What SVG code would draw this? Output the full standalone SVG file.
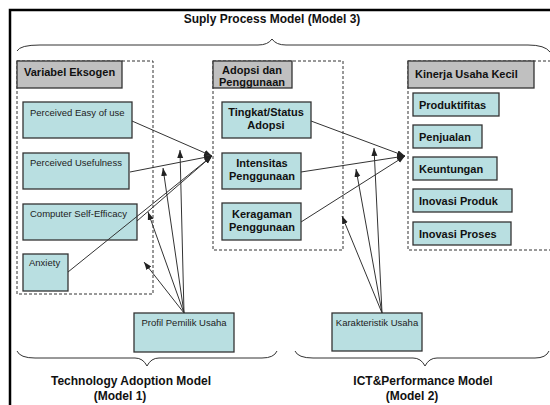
<svg xmlns="http://www.w3.org/2000/svg" width="550" height="405" viewBox="0 0 550 405">
<defs>
<marker id="ah" markerUnits="userSpaceOnUse" markerWidth="9" markerHeight="7" refX="8" refY="3" orient="auto">
<path d="M0,0 L8,3 L0,6 z" fill="#222"/>
</marker>
<style>
.bx{fill:#B9DFE1;stroke:#333;stroke-width:1.3}
.gr{fill:#C0C0C0;stroke:#333;stroke-width:1.3}
.dash{fill:none;stroke:#333;stroke-width:1;stroke-dasharray:3 2}
.br{fill:none;stroke:#333;stroke-width:1}
.ln{fill:none;stroke:#333;stroke-width:1;marker-end:url(#ah)}
.sm{font-family:"Liberation Sans",Arial,sans-serif;font-size:9.5px;fill:#222}
.bd{font-family:"Liberation Sans",Arial,sans-serif;font-size:11px;font-weight:bold;fill:#111}
.hd{font-family:"Liberation Sans",Arial,sans-serif;font-size:12px;font-weight:bold;fill:#111}
</style>
</defs>
<rect x="0" y="0" width="550" height="405" fill="#fff"/>
<rect x="10" y="10" width="600" height="500" fill="none" stroke="#000" stroke-width="2.5"/>
<text class="hd" x="272" y="23" text-anchor="middle">Suply Process Model (Model 3)</text>
<path class="br" d="M17,51 Q20,45 40,45 L258,45 Q268,45 272,39 Q276,45 286,45 L528,45 Q545,45 550,52"/>

<g id="grp-exo">
<rect class="dash" x="17" y="61" width="136" height="233"/>
<rect class="gr" x="17" y="61" width="105" height="27"/>
<text class="bd" x="24" y="76" font-size="10.5">Variabel Eksogen</text>
</g>
<g id="n-peou"><rect class="bx" x="23" y="102" width="109" height="36"/><text class="sm" x="30" y="116">Perceived Easy of use</text></g>
<g id="n-pu"><rect class="bx" x="23" y="153" width="106" height="36"/><text class="sm" x="30" y="166">Perceived Usefulness</text></g>
<g id="n-cse"><rect class="bx" x="23" y="204" width="114" height="36"/><text class="sm" x="30" y="217">Computer Self-Efficacy</text></g>
<g id="n-anx"><rect class="bx" x="23" y="254" width="45" height="37"/><text class="sm" x="29" y="266">Anxiety</text></g>

<g id="grp-adopsi">
<rect class="dash" x="213" y="61" width="130" height="189"/>
<rect class="gr" x="213" y="61" width="79" height="27"/>
<text class="bd" x="252" y="74" text-anchor="middle" font-size="10.5">Adopsi dan</text>
<text class="bd" x="252" y="86" text-anchor="middle" font-size="10.5">Penggunaan</text>
</g>
<g id="n-tingkat"><rect class="bx" x="222" y="102" width="89" height="36"/><text class="bd" x="266" y="116" text-anchor="middle">Tingkat/Status</text><text class="bd" x="266" y="129" text-anchor="middle">Adopsi</text></g>
<g id="n-intensitas"><rect class="bx" x="222" y="153" width="79" height="36"/><text class="bd" x="262" y="167" text-anchor="middle">Intensitas</text><text class="bd" x="262" y="180" text-anchor="middle">Penggunaan</text></g>
<g id="n-keragaman"><rect class="bx" x="222" y="203" width="79" height="37"/><text class="bd" x="262" y="218" text-anchor="middle">Keragaman</text><text class="bd" x="262" y="231" text-anchor="middle">Penggunaan</text></g>

<g id="grp-kinerja">
<rect class="dash" x="408" y="61" width="200" height="189"/>
<rect class="gr" x="408" y="61" width="126" height="27"/>
<text class="bd" x="415" y="78" font-size="11.5">Kinerja Usaha Kecil</text>
</g>
<g id="n-produktifitas"><rect class="bx" x="413" y="93" width="86" height="23"/><text class="bd" x="419" y="109">Produktifitas</text></g>
<g id="n-penjualan"><rect class="bx" x="413" y="125" width="69" height="23"/><text class="bd" x="419" y="141">Penjualan</text></g>
<g id="n-keuntungan"><rect class="bx" x="413" y="157" width="84" height="23"/><text class="bd" x="419" y="173">Keuntungan</text></g>
<g id="n-inovasi-produk"><rect class="bx" x="413" y="189" width="99" height="23"/><text class="bd" x="419" y="205">Inovasi Produk</text></g>
<g id="n-inovasi-proses"><rect class="bx" x="413" y="222" width="98" height="23"/><text class="bd" x="419" y="238">Inovasi Proses</text></g>

<g id="n-profil"><rect class="bx" x="134" y="313" width="100" height="39"/><text class="sm" x="184" y="326" text-anchor="middle" font-size="9">Profil Pemilik Usaha</text></g>
<g id="n-karakteristik"><rect class="bx" x="332" y="313" width="90" height="38"/><text class="sm" x="377" y="326" text-anchor="middle" font-size="9">Karakteristik Usaha</text></g>

<g id="connectors">
<line class="ln" x1="132" y1="121" x2="212" y2="156"/>
<line class="ln" x1="130" y1="172" x2="212" y2="156"/>
<line class="ln" x1="137" y1="221" x2="212" y2="156"/>
<line class="ln" x1="68" y1="272" x2="212" y2="156"/>
<line class="ln" x1="311" y1="121" x2="405" y2="156"/>
<line class="ln" x1="301" y1="172" x2="405" y2="156"/>
<line class="ln" x1="301" y1="222" x2="405" y2="156"/>
<line class="ln" x1="184" y1="313" x2="180" y2="150"/>
<line class="ln" x1="184" y1="313" x2="163" y2="168"/>
<line class="ln" x1="184" y1="313" x2="148" y2="212"/>
<line class="ln" x1="184" y1="313" x2="144" y2="262"/>
<line class="ln" x1="382" y1="313" x2="374" y2="148"/>
<line class="ln" x1="382" y1="313" x2="356" y2="169"/>
<line class="ln" x1="382" y1="313" x2="342" y2="216"/>
</g>

<path class="br" d="M17,351 Q20,358 35,358 L135,358 Q143,358 147,366 Q151,358 159,358 L262,358 Q274,358 277,351"/>
<path class="br" d="M295,351 Q298,358 313,358 L413,358 Q421,358 425,366 Q429,358 437,358 L535,358 Q546,358 549,351"/>
<text class="hd" x="131" y="385" text-anchor="middle">Technology Adoption Model</text>
<text class="hd" x="120" y="400" text-anchor="middle">(Model 1)</text>
<text class="hd" x="423" y="385" text-anchor="middle">ICT&amp;Performance Model</text>
<text class="hd" x="412" y="400" text-anchor="middle">(Model 2)</text>
</svg>
